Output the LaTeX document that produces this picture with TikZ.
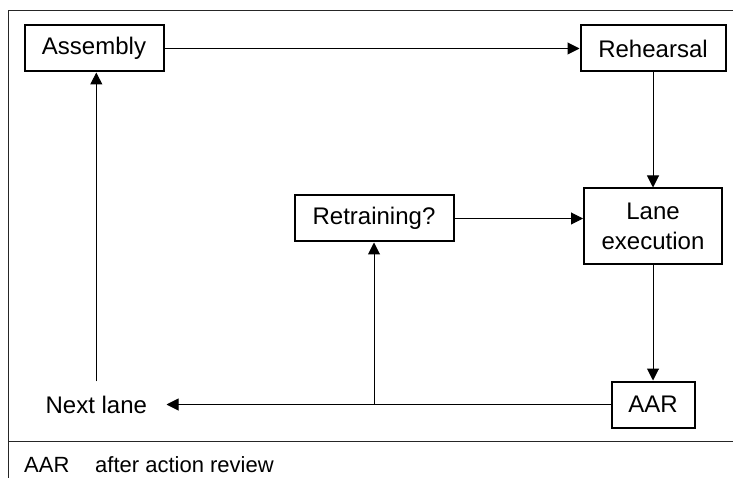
\documentclass[tikz,border=0pt]{standalone}
\usepackage{fontspec}
\setmainfont{Liberation Sans}
\usetikzlibrary{arrows.meta,positioning}

\begin{document}
\begin{tikzpicture}[
            x=1pt, y=-1pt,
            node distance = 115pt and 415pt,
            stage/.style = {rectangle, draw, line width=2pt, minimum height=46pt, align=center, inner sep=0pt, font=\fontsize{24}{30}\selectfont},
            plain/.style = {rectangle, minimum height=46pt, inner sep=0pt, font=\fontsize{24}{30}\selectfont},
            flow/.style = {-{Triangle[length=12pt,width=12pt]}, line width=1pt},
            frame/.style = {line width=1pt, black!85},
            legend/.style = {anchor=base west, inner sep=0pt, font=\fontsize{22}{26}\selectfont}
        ]
        \useasboundingbox (0,0) rectangle (733,478);

        % Marco y separador de la leyenda
        \draw [frame] (733,11) -- (8,11) -- (8,478);
        \draw [frame] (8,441) -- (733,441);

        % Etapas del ciclo
        \node [stage, minimum width=139pt] (assembly) at (94,48.5) {Assembly};
        \node [stage, minimum width=145pt, right=of assembly] (rehearsal) {Rehearsal};
        \node [stage, minimum width=138pt, minimum height=76pt, below=of rehearsal] (lane) {Lane\\execution};
        \node [stage, minimum width=83pt, below=of lane] (aar) {AAR};
        \node [stage, minimum width=159pt] (retrain) at (374,218.5) {Retraining?};
        \node [plain, minimum width=140pt, left=444pt of aar] (next) {Next lane};

        % Flechas de flujo
        \draw [flow] (assembly) -- (rehearsal);
        \draw [flow] (rehearsal) -- (lane);
        \draw [flow] (lane) -- (aar);
        \draw [flow] (aar) -- (next);
        \coordinate (split) at (retrain.south |- aar.west);
        \draw [flow] (split) -- (retrain.south);
        \draw [flow] (retrain.east) -- (retrain.east -| lane.west);
        \draw [flow] (next.north) -- (next.north |- assembly.south);

        % Leyenda
        \node [legend] (abbr) at (24,472) {AAR};
        \node [legend] (abbrtext) at (95,472) {after action review};

    \end{tikzpicture}
\end{document}
